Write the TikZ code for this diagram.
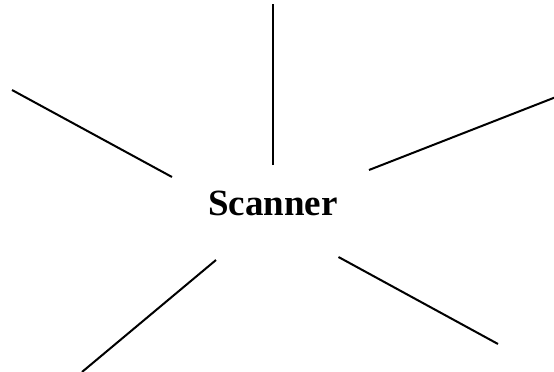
\documentclass[tikz,border=0pt]{standalone}
\usepackage{fontspec}
\setmainfont{Liberation Serif}
\usepackage{tikz}
\usetikzlibrary{positioning}

\begin{document}
\begin{tikzpicture}[x=1pt, y=-1pt,
      hub/.style={font=\fontsize{37}{40}\selectfont\bfseries, inner sep=0pt, anchor=base},
      spoke/.style={line width=2pt, black}]
    \useasboundingbox (0,0) rectangle (554,372);
    \node[hub] (scanner) at (273,215) {Scanner};
    % spoke ends
    \coordinate (topin) at (272.8,165);
    \coordinate (topout) at (272.8,4);
    \coordinate (ulin) at (172,177);
    \coordinate (ulout) at (12,90);
    \coordinate (urin) at (369,170);
    \coordinate (urout) at (556,97);
    \coordinate (llin) at (216,260);
    \coordinate (llout) at (82,372);
    \coordinate (lrin) at (338.5,257);
    \coordinate (lrout) at (498,344);
    \draw[spoke] (topin) -- (topout);
    \draw[spoke] (ulin) -- (ulout);
    \draw[spoke] (urin) -- (urout);
    \draw[spoke] (llin) -- (llout);
    \draw[spoke] (lrin) -- (lrout);
  \end{tikzpicture}
\end{document}
